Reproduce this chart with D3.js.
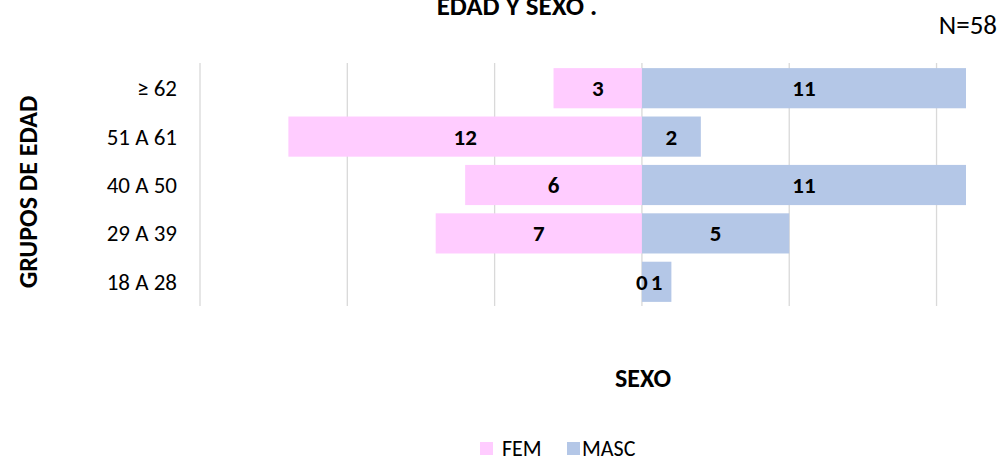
<!DOCTYPE html>
<html><head><meta charset="utf-8">
<script src="https://cdn.jsdelivr.net/npm/d3@7"></script>
<style>body{margin:0;background:#fff;} text{font-family:Carlito,Lato,"Open Sans",sans-serif;}</style>
</head><body>
<svg id="c" width="1002" height="461"></svg>
<script>
const categories = ["≥ 62", "51 A 61", "40 A 50", "29 A 39", "18 A 28"];
const fem = [3, 12, 6, 7, 0];
const masc = [11, 2, 11, 5, 1];
const seriesNames = ["FEM", "MASC"];
const gridTicks = [-15, -10, -5, 0, 5, 10];

const colors = {FEM: "#FFCCFF", MASC: "#B4C7E7"};
const svg = d3.select("#c");
const x = d3.scaleLinear().domain([-15, 11]).range([200, 966]);
const y = d3.scaleBand().domain(categories).range([64, 306]).paddingInner(0.17).paddingOuter(0.085);

// gridlines
svg.append("g").selectAll("line").data(gridTicks).join("line")
  .attr("x1", d => x(d)).attr("x2", d => x(d))
  .attr("y1", 63).attr("y2", 306)
  .attr("stroke", "#D9D9D9").attr("stroke-width", 1.3);

const rows = categories.map((c, i) => ({c, f: fem[i], m: masc[i]}));

svg.append("g").selectAll("rect").data(rows).join("rect")
  .attr("x", d => x(-d.f)).attr("width", d => x(0) - x(-d.f))
  .attr("y", d => y(d.c)).attr("height", y.bandwidth())
  .attr("fill", colors.FEM);
svg.append("g").selectAll("rect").data(rows).join("rect")
  .attr("x", x(0)).attr("width", d => x(d.m) - x(0))
  .attr("y", d => y(d.c)).attr("height", y.bandwidth())
  .attr("fill", colors.MASC);

// data labels
svg.append("g").selectAll("text").data(rows).join("text")
  .attr("x", d => (x(-d.f) + x(0)) / 2)
  .attr("y", d => y(d.c) + y.bandwidth() / 2 + 8)
  .attr("text-anchor", "middle").attr("font-weight", "bold").attr("font-size", 23)
  .text(d => d.f);
svg.append("g").selectAll("text").data(rows).join("text")
  .attr("x", d => (x(d.m) + x(0)) / 2)
  .attr("y", d => y(d.c) + y.bandwidth() / 2 + 8)
  .attr("text-anchor", "middle").attr("font-weight", "bold").attr("font-size", 23)
  .text(d => d.m);

// category axis
const yAxis = d3.axisLeft(y).tickSize(0).tickPadding(0);
const ga = svg.append("g").attr("transform", "translate(177,0)").call(yAxis);
ga.select(".domain").remove();
ga.selectAll("text").attr("font-size", 23).attr("fill", "#000")
  .style("font-family", "Carlito,Lato,'Open Sans',sans-serif").attr("dy", "0.35em");

// titles
svg.append("text").attr("x", 517).attr("y", 15).attr("text-anchor", "middle")
  .attr("font-weight", "bold").attr("font-size", 27).text("EDAD Y SEXO .");
svg.append("text").attr("x", 997).attr("y", 34).attr("text-anchor", "end")
  .attr("font-size", 27).text("N=58");
svg.append("text").attr("transform", "translate(37,192) rotate(-90)").attr("text-anchor", "middle")
  .attr("font-weight", "bold").attr("font-size", 26).text("GRUPOS DE EDAD");
svg.append("text").attr("x", 643).attr("y", 387).attr("text-anchor", "middle")
  .attr("font-weight", "bold").attr("font-size", 26).text("SEXO");

// legend
const legX = [480, 567];
const lg = svg.append("g").selectAll("g").data(seriesNames).join("g")
  .attr("transform", (d, i) => `translate(${legX[i]},442)`);
lg.append("rect").attr("width", 13).attr("height", 13).attr("fill", d => colors[d]);
lg.append("text").attr("x", d => d === "FEM" ? 22 : 15).attr("y", 14)
  .attr("font-size", 22).text(d => d);
</script>
</body></html>
